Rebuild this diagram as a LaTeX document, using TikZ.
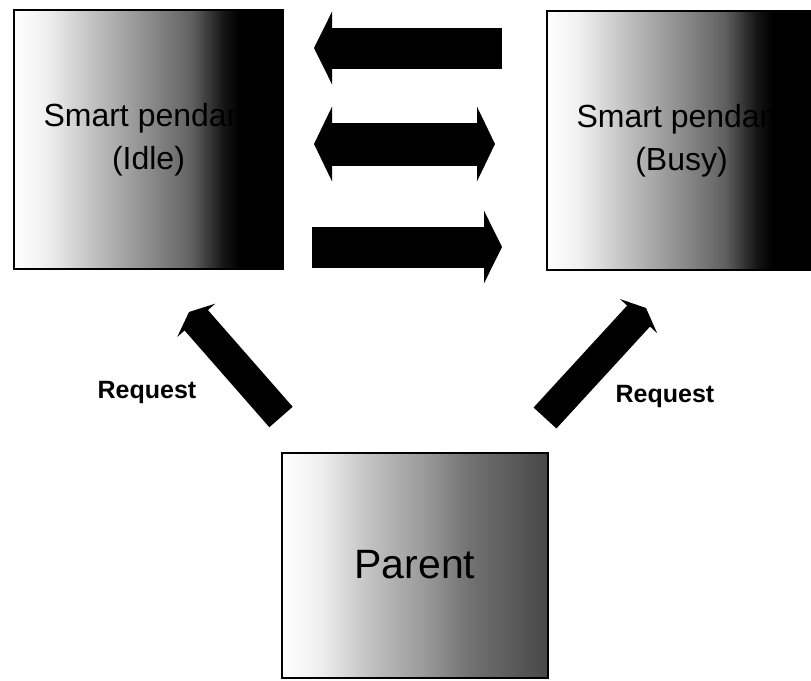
\documentclass[tikz,border=0pt]{standalone}
\usepackage{fontspec}
\setmainfont{Liberation Sans}
\usetikzlibrary{arrows.meta}

% horizontal fades, white on the left into black on the right
\pgfdeclarehorizontalshading{pendantshade}{100bp}{%
  color(0bp)=(white); color(25bp)=(white); color(31bp)=(black!6);
  color(40bp)=(black!25); color(50bp)=(black!45); color(58bp)=(black!62);
  color(64bp)=(black!92); color(67bp)=(black); color(100bp)=(black)}
\pgfdeclarehorizontalshading{parentshade}{100bp}{%
  color(0bp)=(white); color(25bp)=(white); color(32bp)=(black!6);
  color(42bp)=(black!25); color(52bp)=(black!40); color(60bp)=(black!55);
  color(75bp)=(black!72); color(100bp)=(black!72)}

\tikzset{
  pendantbox/.style={draw=black, line width=1.6pt, shade, shading=pendantshade,
    minimum width=269pt, minimum height=259pt, inner sep=0pt, align=center,
    font=\fontsize{32}{43}\selectfont},
  parentbox/.style={draw=black, line width=1.6pt, shade, shading=parentshade,
    minimum width=266pt, minimum height=225pt, inner sep=0pt,
    font=\fontsize{41}{44}\selectfont},
  blockarrow/.style={draw=black, line width=41pt,
    -{Triangle[length=18pt, width=72pt]}},
  twowayarrow/.style={draw=black, line width=43pt,
    {Triangle[length=18pt, width=74pt]}-{Triangle[length=18pt, width=74pt]}},
  reqarrow/.style={draw=black, line width=31pt,
    -{Triangle[length=11pt, width=50pt]}},
  reqlabel/.style={font=\bfseries\fontsize{25}{28}\selectfont, inner sep=0pt}
}

\begin{document}
\begin{tikzpicture}[x=1pt, y=-1pt]
  \path[use as bounding box, clip] (0,0) rectangle (811,680);

  % the three boxes
  \node[pendantbox] (idle) at (148.5,139.5) {Smart pendant\\(Idle)};
  \node[pendantbox] (busy) at (681.5,140.5) {Smart pendant\\(Busy)};
  \node[parentbox] (parent) at (415,565.5) {\raisebox{3pt}{Parent}};

  % ends of the block arrows between the pendants
  \coordinate (topR) at (502,48);
  \coordinate (topL) at (314,48);
  \coordinate (midL) at (314,144);
  \coordinate (midR) at (495,144);
  \coordinate (botL) at (312,247);
  \coordinate (botR) at (502,247);

  \draw[blockarrow] (topR) -- (topL);
  \draw[twowayarrow] (midL) -- (midR);
  \draw[blockarrow] (botL) -- (botR);

  % request arrows from the parent up to the pendants
  \coordinate (reqLtail) at (281,417);
  \coordinate (reqLtip) at (189,312);
  \coordinate (reqRtail) at (545,418);
  \coordinate (reqRtip) at (646,308);

  \draw[reqarrow] (reqLtail) -- (reqLtip);
  \draw[reqarrow] (reqRtail) -- (reqRtip);

  \node[reqlabel] (reqL) at (147,392) {Request};
  \node[reqlabel] (reqR) at (665,396) {Request};
\end{tikzpicture}
\end{document}
